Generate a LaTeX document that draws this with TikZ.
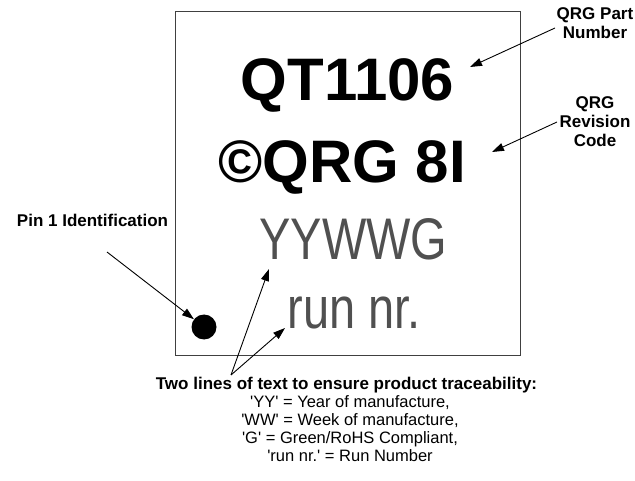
\documentclass[tikz,border=0pt]{standalone}
\usepackage{fontspec}
\setmainfont{Liberation Sans}
\usetikzlibrary{arrows.meta}
\definecolor{chipgray}{HTML}{505050}
\definecolor{edgegray}{HTML}{404040}
\newcommand{\sq}{\textquotesingle}
\begin{document}
\begin{tikzpicture}[x=1pt,y=-1pt,
  lbl/.style={font=\fontsize{17}{18}\selectfont\bfseries, anchor=base, inner sep=0pt},
  txt/.style={font=\fontsize{16.5}{18}\selectfont, anchor=base, inner sep=0pt},
  big/.style={font=\fontsize{60}{60}\selectfont\bfseries, anchor=base, inner sep=0pt},
  grey/.style={font=\fontsize{58.7}{58.7}\selectfont, text=chipgray, anchor=base, inner sep=0pt},
  arr/.style={draw=black, line width=0.9pt, -{Triangle[length=12pt,width=8pt]}}
]
\useasboundingbox (0,0) rectangle (635,481);
% package outline
\draw[edgegray, line width=1pt] (175,12) rectangle (520,355);
% marking text
\node[big] (part) at (347.5,101) {QT1106};
\node[big] (rev) at (342,183) {©QRG 8I};
\node[grey] (date) at (353.5,260) {\scalebox{0.8}[1]{YYWWG}};
\node[grey] (run) at (354,328) {\scalebox{0.8}[1]{run nr.}};
% pin 1 dot
\node[circle, fill=black, minimum size=25pt, inner sep=0pt] (dot) at (204,327) {};
% labels
\node[lbl] (pinlbl) at (92.5,227) {Pin 1 Identification};
\node[lbl] (partlbl1) at (595,20) {QRG Part};
\node[lbl] (partlbl2) at (595,39) {Number};
\node[lbl] (revlbl1) at (595,109) {QRG};
\node[lbl] (revlbl2) at (595,128) {Revision};
\node[lbl] (revlbl3) at (595,147) {Code};
\node[lbl] (note0) at (346.5,389) {Two lines of text to ensure product traceability:};
\node[txt] (note1) at (350,407) {\sq YY\sq\ = Year of manufacture,};
\node[txt] (note2) at (350,425) {\sq WW\sq\ = Week of manufacture,};
\node[txt] (note3) at (350,443) {\sq G\sq\ = Green/RoHS Compliant,};
\node[txt] (note4) at (350,461) {\sq run nr.\sq\ = Run Number};
% arrow coordinates
\coordinate (pinstart) at (107,252);
\coordinate (partstart) at (555,28);
\coordinate (parttip) at (470,67);
\coordinate (revstart) at (557,122);
\coordinate (revtip) at (492,152);
\coordinate (notestart) at (231,375);
\coordinate (datetip) at (269,269);
\coordinate (runtip) at (285,328);
% arrows
\draw[arr] (pinstart) -- (dot);
\draw[arr] (partstart) -- (parttip);
\draw[arr] (revstart) -- (revtip);
\draw[arr] (notestart) -- (datetip);
\draw[arr] (notestart) -- (runtip);
\end{tikzpicture}
\end{document}
